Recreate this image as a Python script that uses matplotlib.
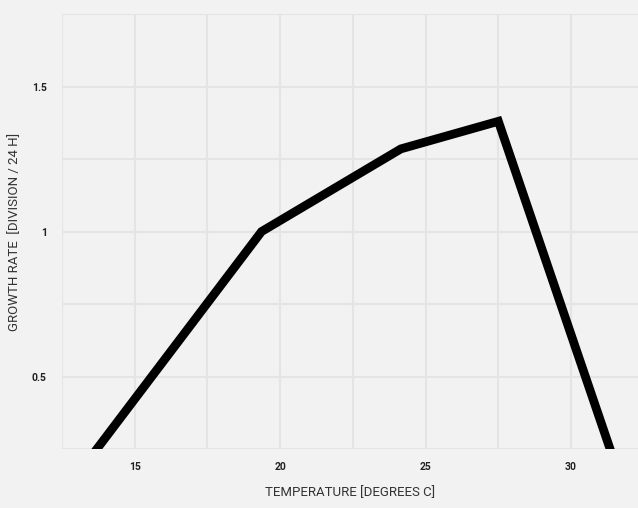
import matplotlib
matplotlib.use("Agg")
import matplotlib.pyplot as plt
from matplotlib.ticker import FixedLocator

# Growth rate vs temperature
TEMPS  = [13.32, 19.36, 24.15, 27.5, 31.51]
GROWTH = [0.20, 1.00, 1.285, 1.38, 0.20]

X_MAJOR = [15, 20, 25, 30]
X_MINOR = [12.5, 17.5, 22.5, 27.5]
Y_MAJOR = [0.5, 1.0, 1.5]
Y_LABELS = ["0.5", "1", "1.5"]
Y_MINOR = [0.25, 0.75, 1.25, 1.75]

BG = "#f2f2f2"
GRID = "#e4e4e6"

plt.rcParams["font.family"] = ["Roboto", "DejaVu Sans"]

fig = plt.figure(figsize=(6.38, 5.08), dpi=100)
fig.patch.set_facecolor(BG)
ax = fig.add_axes([0.0972, 0.1161, 0.9028, 0.8563])
ax.set_facecolor(BG)

ax.plot(TEMPS, GROWTH, color="black", lw=6.3, solid_joinstyle="miter",
        solid_capstyle="butt", zorder=3)

ax.set_xlim(12.5, 32.3)
ax.set_ylim(0.25, 1.75)

ax.xaxis.set_major_locator(FixedLocator(X_MAJOR))
ax.xaxis.set_minor_locator(FixedLocator(X_MINOR))
ax.yaxis.set_major_locator(FixedLocator(Y_MAJOR))
ax.yaxis.set_minor_locator(FixedLocator(Y_MINOR))
ax.set_yticklabels(Y_LABELS)

ax.grid(True, which="both", color=GRID, lw=1.5, zorder=0)
ax.set_axisbelow(True)
for s in ax.spines.values():
    s.set_visible(False)

ax.tick_params(which="both", length=0)
ax.tick_params(axis="x", pad=9, labelsize=7.5)
ax.tick_params(axis="y", pad=11, labelsize=7.5)
for lab in ax.get_xticklabels() + ax.get_yticklabels():
    lab.set_fontweight("bold")
    lab.set_color("#222222")

ax.set_xlabel("TEMPERATURE [DEGREES C]", fontsize=9.5, color="#333333")
ax.set_ylabel("GROWTH RATE  [DIVISION / 24 H]", fontsize=9.5, color="#333333")
ax.xaxis.set_label_coords(0.5, -0.085)
ax.yaxis.set_label_coords(-0.072, 0.5)

fig.savefig("out.png", dpi=100, facecolor=BG)
